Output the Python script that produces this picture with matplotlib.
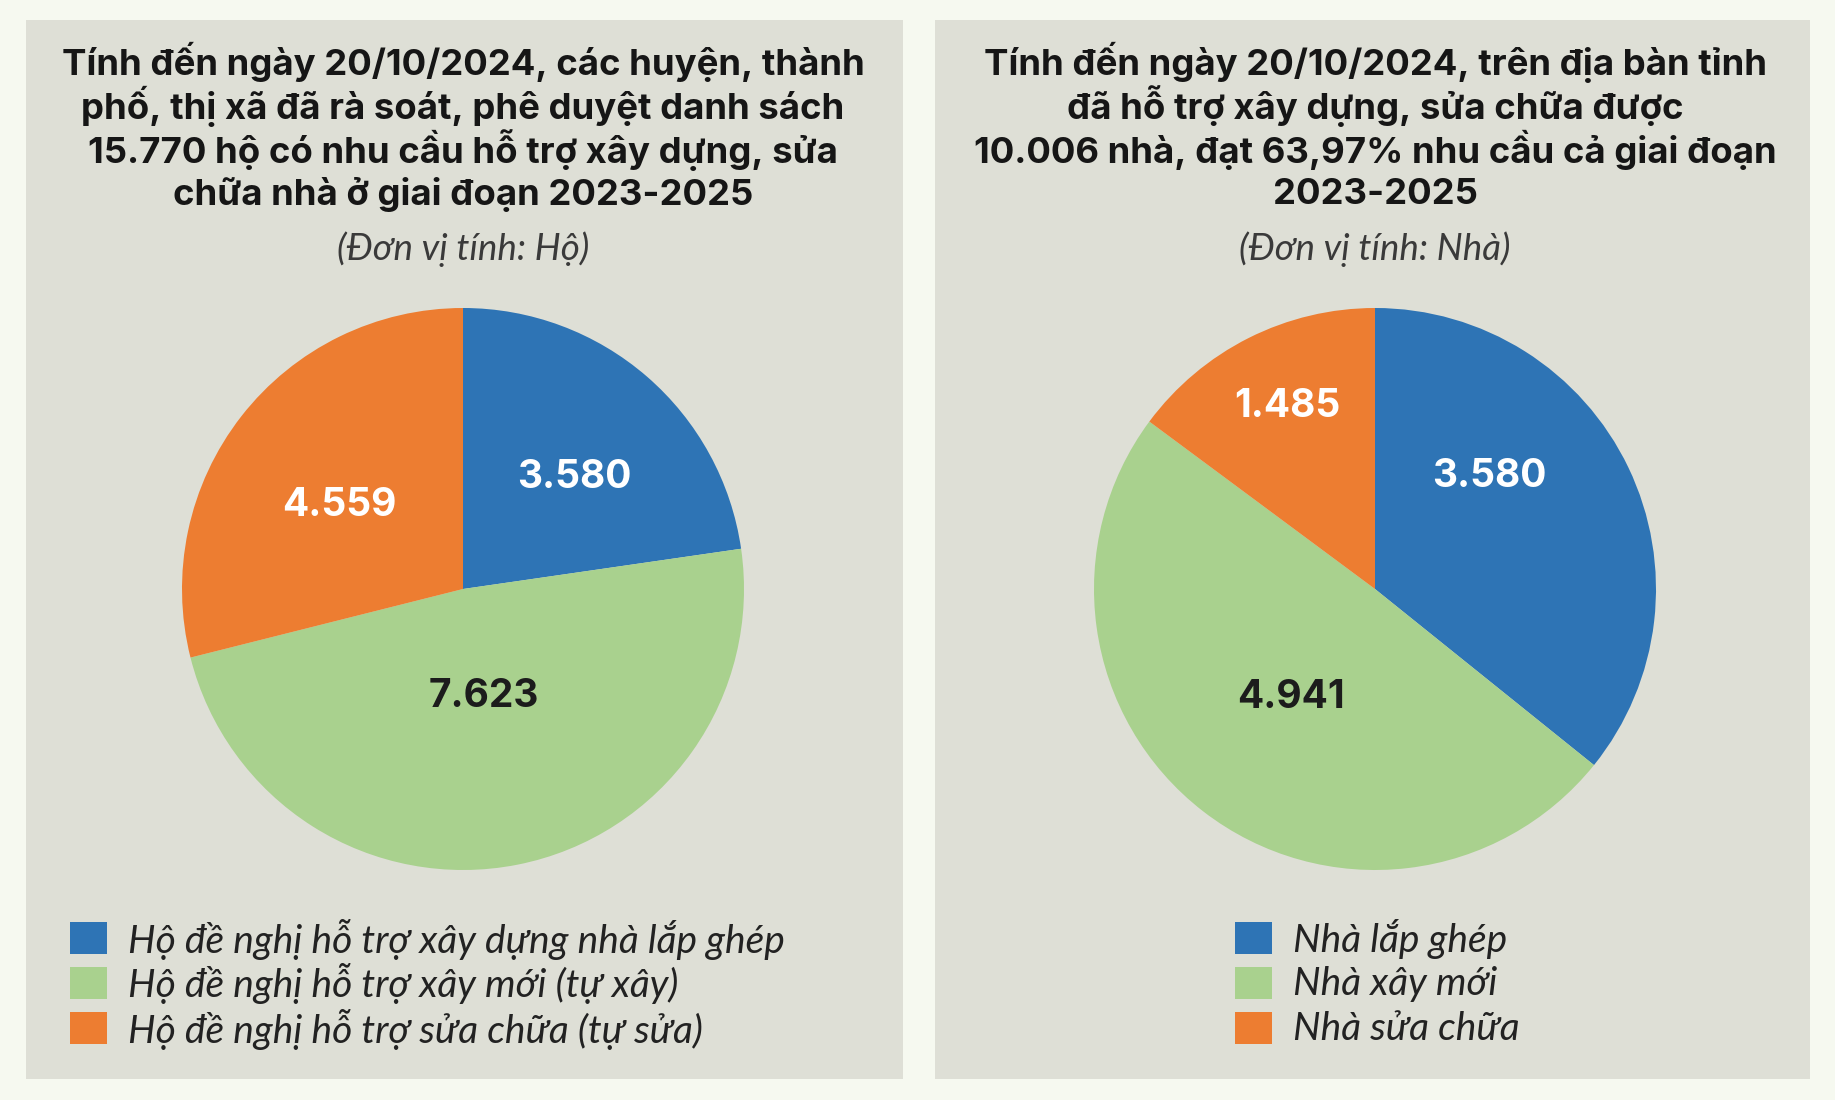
import numpy as np
import matplotlib
matplotlib.use("Agg")
import matplotlib.pyplot as plt
from matplotlib.patches import Rectangle

# data
left_title = ("Tính đến ngày 20/10/2024, các huyện, thành\n"
              "phố, thị xã đã rà soát, phê duyệt danh sách\n"
              "15.770 hộ có nhu cầu hỗ trợ xây dựng, sửa\n"
              "chữa nhà ở giai đoạn 2023-2025")
left_unit = "(Đơn vị tính: Hộ)"
left_labels = ["Hộ đề nghị hỗ trợ xây dựng nhà lắp ghép",
               "Hộ đề nghị hỗ trợ xây mới (tự xây)",
               "Hộ đề nghị hỗ trợ sửa chữa (tự sửa)"]
left_values = [3580, 7623, 4559]
left_texts = ["3.580", "7.623", "4.559"]

right_title = ("Tính đến ngày 20/10/2024, trên địa bàn tỉnh\n"
               "đã hỗ trợ xây dựng, sửa chữa được\n"
               "10.006 nhà, đạt 63,97% nhu cầu cả giai đoạn\n"
               "2023-2025")
right_unit = "(Đơn vị tính: Nhà)"
right_labels = ["Nhà lắp ghép", "Nhà xây mới", "Nhà sửa chữa"]
right_values = [3580, 4941, 1485]
right_texts = ["3.580", "4.941", "1.485"]

colors = ["#2e74b5", "#a9d18e", "#ed7d31"]
text_colors = ["white", "#1c1c1c", "white"]

W, H = 1835, 1100
BOLD = ["Inter", "Open Sans", "DejaVu Sans"]
ITAL = ["Lato", "Open Sans", "DejaVu Sans"]

fig = plt.figure(figsize=(W / 100, H / 100), dpi=100)
fig.patch.set_facecolor("#f6f9f0")


def fx(px):
    return px / W


def fy(py):
    return 1 - py / H


def panel(x0, x1, cx, title, unit, values, texts, labels, leg_x, label_pos):
    fig.add_artist(Rectangle((fx(x0), fy(1079)), fx(x1 - x0), (1079 - 20) / H,
                             transform=fig.transFigure, facecolor="#dedfd6",
                             edgecolor="none", zorder=0))
    # title lines placed one by one for tight spacing
    for i, line in enumerate(title.split("\n")):
        fig.text(fx(cx), fy(62 + i * 44), line, ha="center", va="center", fontsize=26.3,
                 fontweight="bold", family=BOLD, color="#161616")
    fig.text(fx(cx), fy(249), unit, ha="center", va="center", fontsize=26.5,
             fontstyle="italic", family=ITAL, color="#3a3a3a")

    r = 281
    ax = fig.add_axes([fx(cx - r), fy(589 + r), fx(2 * r), 2 * r / H])
    wedges, _ = ax.pie(values, colors=colors, startangle=90, counterclock=False,
                       radius=1, wedgeprops=dict(linewidth=0))
    ax.set_xlim(-1, 1)
    ax.set_ylim(-1, 1)
    ax.set_aspect("equal")
    ax.axis("off")
    for w, t, tc, (dang, dist) in zip(wedges, texts, text_colors, label_pos):
        ang = np.deg2rad((w.theta1 + w.theta2) / 2 + dang)
        ax.text(dist * np.cos(ang), dist * np.sin(ang), t, ha="center", va="center",
                fontsize=28, fontweight="bold", family=BOLD, color=tc)

    for i, lab in enumerate(labels):
        yc = 938 + i * 45
        fig.add_artist(Rectangle((fx(leg_x), fy(yc + 16)), fx(37), 32 / H,
                                 transform=fig.transFigure, facecolor=colors[i],
                                 edgecolor="none"))
        fig.text(fx(leg_x + 58), fy(yc + 1), lab, ha="left", va="center", fontsize=28,
                 fontstyle="italic", family=ITAL, color="#222222")


panel(26, 903, 463, left_title, left_unit, left_values, left_texts, left_labels, 70,
      [(-4, 0.56), (0, 0.39), (4, 0.53)])
panel(935, 1810, 1375, right_title, right_unit, right_values, right_texts, right_labels,
      1235, [(19, 0.57), (0, 0.49), (-1, 0.72)])

fig.savefig("out.png", dpi=100, facecolor=fig.get_facecolor())
